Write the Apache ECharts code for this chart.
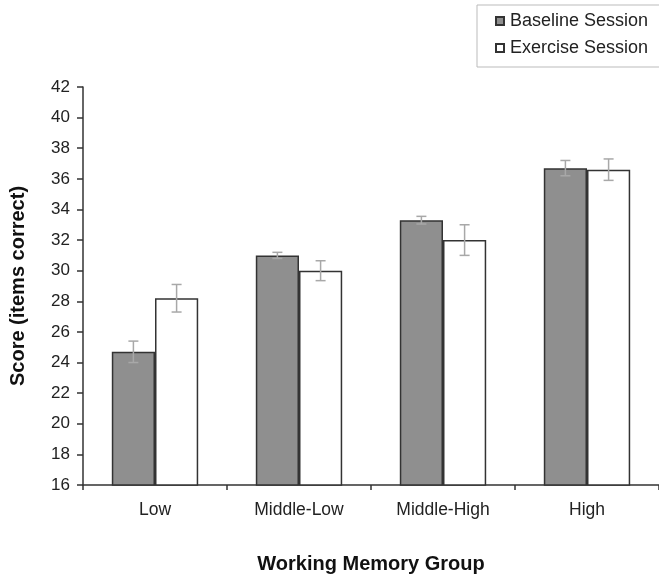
<!DOCTYPE html>
<html>
<head>
<meta charset="utf-8">
<script src="https://cdn.jsdelivr.net/npm/echarts@6/dist/echarts.min.js"></script>
<style>html,body{margin:0;padding:0;background:#fff}#c{width:659px;height:574px}</style>
</head>
<body>
<div id="c"></div>
<script>
const categories = ['Low', 'Middle-Low', 'Middle-High', 'High'];
const baseline = [24.7, 31.0, 33.3, 36.7];
const exercise = [28.2, 30.0, 32.0, 36.6];
const baselineErr = [0.7, 0.2, 0.25, 0.5];
const exerciseErr = [0.9, 0.65, 1.0, 0.7];
const seriesNames = ['Baseline Session', 'Exercise Session'];

const FONT = 'Arial, "Liberation Sans", sans-serif';
const BAR_FRAC = 0.3;

function errSeries(values, errs, side) {
  return {
    type: 'custom',
    silent: true,
    z: 10,
    data: values.map((v, i) => [i, v, errs[i]]),
    renderItem: function (params, api) {
      const i = api.value(0), v = api.value(1), e = api.value(2);
      const band = api.size([1, 0])[0];
      const off = side * band * BAR_FRAC / 2;
      const top = api.coord([i, v + e]);
      const bot = api.coord([i, v - e]);
      const x = top[0] + off;
      const cap = 5;
      const style = { stroke: '#a8a8a8', lineWidth: 1.5, fill: null };
      return {
        type: 'group',
        children: [
          { type: 'line', shape: { x1: x, y1: top[1], x2: x, y2: bot[1] }, style },
          { type: 'line', shape: { x1: x - cap, y1: top[1], x2: x + cap, y2: top[1] }, style },
          { type: 'line', shape: { x1: x - cap, y1: bot[1], x2: x + cap, y2: bot[1] }, style }
        ]
      };
    }
  };
}

const chart = echarts.init(document.getElementById('c'));
chart.setOption({
  animation: false,
  textStyle: { fontFamily: FONT },
  legend: {
    data: seriesNames,
    orient: 'vertical',
    left: 477,
    top: 5,
    padding: [7, 30, 10, 18],
    itemGap: 9,
    itemWidth: 8,
    itemHeight: 8,
    icon: 'rect',
    borderColor: '#bbbbbb',
    borderWidth: 1,
    textStyle: { fontSize: 18, color: '#222', fontFamily: FONT, padding: [0, 0, 0, 1] }
  },
  grid: { left: 83, right: 0, top: 87, bottom: 89, containLabel: false, outerBoundsMode: 'none' },
  xAxis: {
    type: 'category',
    data: categories,
    name: 'Working Memory Group',
    nameLocation: 'middle',
    nameGap: 69,
    nameTextStyle: { fontSize: 20, fontWeight: 'bold', color: '#111', fontFamily: FONT },
    axisLine: { lineStyle: { color: '#333', width: 1.5 } },
    axisTick: { show: true, length: 5, lineStyle: { color: '#333', width: 1.5 } },
    axisLabel: { fontSize: 17.5, color: '#222', margin: 16, fontFamily: FONT }
  },
  yAxis: {
    type: 'value',
    min: 16,
    max: 42,
    interval: 2,
    name: 'Score (items correct)',
    nameLocation: 'middle',
    nameGap: 55,
    nameRotate: 90,
    nameTextStyle: { fontSize: 20, fontWeight: 'bold', color: '#111', fontFamily: FONT },
    axisLine: { show: true, lineStyle: { color: '#333', width: 1.5 } },
    axisTick: { show: true, length: 6, lineStyle: { color: '#333', width: 1.5 } },
    axisLabel: { fontSize: 17, color: '#222', margin: 13, fontFamily: FONT },
    splitLine: { show: false }
  },
  series: [
    {
      name: seriesNames[0],
      type: 'bar',
      data: baseline,
      barWidth: (BAR_FRAC * 100) + '%',
      barGap: '0%',
      itemStyle: { color: '#8f8f8f', borderColor: '#333', borderWidth: 1.5 }
    },
    {
      name: seriesNames[1],
      type: 'bar',
      data: exercise,
      barWidth: (BAR_FRAC * 100) + '%',
      barGap: '0%',
      itemStyle: { color: '#ffffff', borderColor: '#333', borderWidth: 1.5 }
    },
    errSeries(baseline, baselineErr, -1),
    errSeries(exercise, exerciseErr, 1)
  ]
});
</script>
</body>
</html>
